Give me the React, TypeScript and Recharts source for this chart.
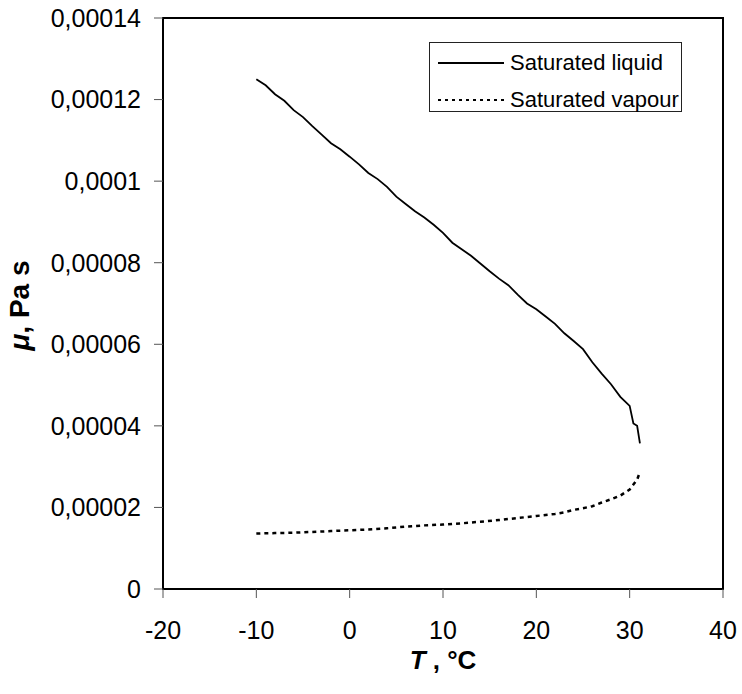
import React from "react";
import {
  LineChart,
  Line,
  XAxis,
  YAxis,
  Legend,
  Label,
  ReferenceArea,
} from "recharts";

// temperature (°C) and dynamic viscosity (Pa s) along the saturation line
const liquidT = [
  -10, -9, -8, -7, -6, -5, -4, -3, -2, -1, 0, 1, 2, 3, 4, 5, 6, 7, 8, 9, 10,
  11, 12, 13, 14, 15, 16, 17, 18, 19, 20, 21, 22, 23, 24, 25, 26, 27, 28, 29,
  30, 30.4, 30.8, 31.1,
];
const liquidMu = [
  0.000125, 0.0001235, 0.0001213, 0.0001197, 0.0001174, 0.0001157, 0.0001135,
  0.0001114, 0.0001093, 0.0001078, 0.000106, 0.0001041, 0.000102, 0.0001005,
  0.0000986, 0.0000962, 0.0000944, 0.0000926, 0.0000911, 0.0000893, 0.0000873,
  0.0000849, 0.0000833, 0.0000817, 0.0000798, 0.0000779, 0.0000761, 0.0000745,
  0.0000722, 0.00007, 0.0000686, 0.0000668, 0.000065, 0.0000627, 0.0000608,
  0.0000588, 0.0000556, 0.0000528, 0.0000502, 0.0000471, 0.0000449, 0.0000406,
  0.00004, 0.0000357,
];

const vapourT = [
  -10, -8, -6, -4, -2, 0, 2, 4, 6, 8, 10, 12, 14, 16, 18, 20, 22, 23, 24, 25,
  26, 27, 28, 29, 30, 30.4, 30.8, 31.1,
];
const vapourMu = [
  0.0000136, 0.0000137, 0.0000138, 0.000014, 0.0000142, 0.0000144, 0.0000146,
  0.0000149, 0.0000153, 0.0000156, 0.0000158, 0.0000161, 0.0000165, 0.0000169,
  0.0000174, 0.0000179, 0.0000184, 0.0000188, 0.0000194, 0.0000198, 0.0000203,
  0.0000212, 0.000022, 0.0000229, 0.0000244, 0.0000256, 0.0000268, 0.0000287,
];

const xTicks = [-20, -10, 0, 10, 20, 30, 40];
const yTicks = [0, 0.00002, 0.00004, 0.00006, 0.00008, 0.0001, 0.00012, 0.00014];

const liquidData = liquidT.map((t, i) => ({ t, mu: liquidMu[i] }));
const vapourData = vapourT.map((t, i) => ({ t, mu: vapourMu[i] }));

const FONT = "'Liberation Sans', Arial, Helvetica, sans-serif";

// decimal comma on the viscosity axis
const fmt = (v: number) => String(v).replace(".", ",");

const LegendBox = () => (
  <div
    style={{
      width: 253,
      height: 70,
      boxSizing: "border-box",
      border: "1px solid #222",
      background: "#fff",
      fontFamily: FONT,
      fontSize: 22,
      color: "#000",
      position: "relative",
    }}
  >
    <svg width={80} height={70} style={{ position: "absolute", left: 0, top: 0 }}>
      <line x1={8} x2={74} y1={20} y2={20} stroke="#000" strokeWidth={2} />
      <line
        x1={8}
        x2={74}
        y1={57}
        y2={57}
        stroke="#000"
        strokeWidth={2}
        strokeDasharray="3 4"
      />
    </svg>
    <div style={{ position: "absolute", left: 80, top: 6, lineHeight: "28px" }}>
      Saturated liquid
    </div>
    <div style={{ position: "absolute", left: 80, top: 43, lineHeight: "28px" }}>
      Saturated vapour
    </div>
  </div>
);

export default function App() {
  return (
    <div style={{ position: "absolute", left: 0, top: 0, background: "#fff" }}>
      <LineChart
        width={742}
        height={694}
        margin={{ top: 18, right: 19, bottom: 0, left: 0 }}
        style={{ fontFamily: FONT }}
      >
        <XAxis
          dataKey="t"
          type="number"
          domain={[-20, 40]}
          ticks={xTicks}
          allowDuplicatedCategory={false}
          height={105}
          tickSize={9}
          tickMargin={23}
          axisLine={{ stroke: "#000", strokeWidth: 2 }}
          tickLine={{ stroke: "#555" }}
          tick={{ fill: "#000", fontSize: 25, fontFamily: FONT }}
        >
          <Label
            content={({ viewBox }: any) => (
              <text
                x={viewBox.x + viewBox.width / 2}
                y={669}
                textAnchor="middle"
                fontFamily={FONT}
                fontSize={26}
                fontWeight="bold"
                fill="#000"
              >
                <tspan fontStyle="italic">T</tspan> , °C
              </text>
            )}
          />
        </XAxis>
        <YAxis
          type="number"
          domain={[0, 0.00014]}
          ticks={yTicks}
          width={163}
          tickSize={9}
          tickMargin={13}
          tickFormatter={fmt}
          axisLine={{ stroke: "#000", strokeWidth: 2 }}
          tickLine={{ stroke: "#555" }}
          tick={{ fill: "#000", fontSize: 25, fontFamily: FONT }}
        >
          <Label
            content={({ viewBox }: any) => (
              <text
                x={19}
                y={viewBox.y + viewBox.height / 2 + 2}
                transform={`rotate(-90, 19, ${viewBox.y + viewBox.height / 2 + 2})`}
                textAnchor="middle"
                dominantBaseline="central"
                fontFamily={FONT}
                fontSize={28}
                fontWeight="bold"
                fill="#000"
              >
                <tspan fontStyle="italic">μ</tspan>, Pa s
              </text>
            )}
          />
        </YAxis>
        <ReferenceArea
          x1={-20}
          x2={40}
          y1={0}
          y2={0.00014}
          fill="none"
          stroke="#000"
          strokeWidth={2}
        />
        <Line
          data={liquidData}
          dataKey="mu"
          type="linear"
          stroke="#000"
          strokeWidth={1.8}
          dot={false}
          isAnimationActive={false}
        />
        <Line
          data={vapourData}
          dataKey="mu"
          type="linear"
          stroke="#000"
          strokeWidth={2.5}
          strokeDasharray="4 4"
          dot={false}
          isAnimationActive={false}
        />
        <Legend
          layout="vertical"
          verticalAlign="middle"
          align="center"
          content={() => <LegendBox />}
          wrapperStyle={{ position: "absolute", left: 429, top: 42, width: 253 }}
        />
      </LineChart>
    </div>
  );
}
